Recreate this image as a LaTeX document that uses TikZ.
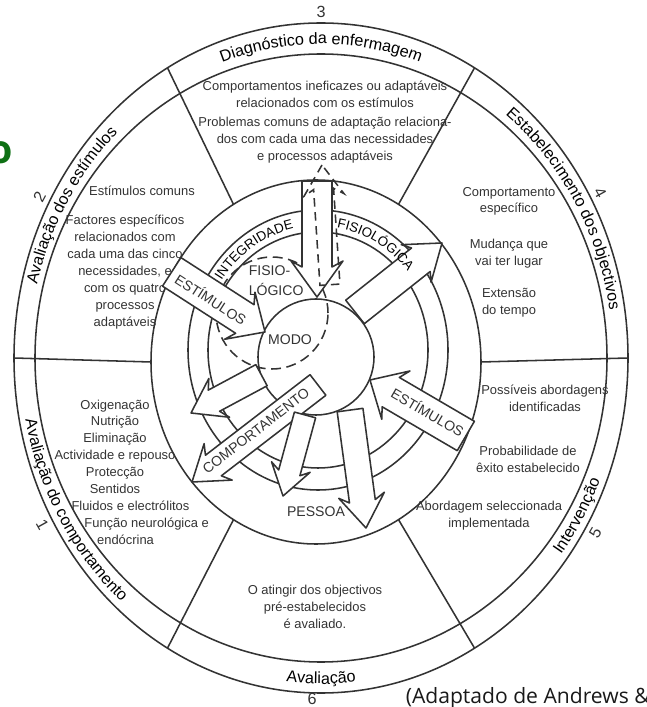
\documentclass[tikz,border=0pt]{standalone}
\usepackage{fontspec}
\setmainfont{Liberation Sans}
\newfontfamily\notefont{Open Sans}
\usetikzlibrary{decorations.text}
\definecolor{notegreen}{RGB}{14,112,20}

\newcommand\txtsz{\fontsize{9.2}{12}\selectfont}
\newcommand\ringsz{\fontsize{11.5}{13}\selectfont}
\newcommand\capsz{\fontsize{10}{12}\selectfont}
\newcommand\bandsz{\fontsize{9.5}{11}\selectfont}

\begin{document}
\begin{tikzpicture}[
    x=0.025cm, y=0.025cm,
    line width=1.1pt,
    color=black!80,
    lbl/.style={font=\txtsz, align=center, inner sep=0pt},
    num/.style={font=\ringsz, inner sep=0pt},
    caps/.style={font=\capsz, inner sep=0pt},
    % hollow arrow, tip at the origin: {length}{half shaft}{half head}{head length}
    pics/harrow/.style n args={4}{code={
      \path[pic actions] (0,0) -- (-#4-6,#3) -- (-#4,#2) -- (-#1,#2) -- (-#1,-#2) -- (-#4,-#2) -- (-#4-6,-#3) -- cycle;}},
    hollow/.style={draw, fill=white, line join=round},
    ringtext/.style={decorate, decoration={text along path, text align=center, text={|\ringsz|#1}}},
    bandtext/.style={decorate, decoration={text along path, text align=center, text={|\bandsz|#1}}}
]
\useasboundingbox (-321,-349) rectangle (325,358);
\clip (-321,-349) rectangle (325,358);

% outer ring and the six phases
\draw (0,0) ellipse [x radius=307, y radius=335];
\draw (0,0) ellipse [x radius=286, y radius=304];
\foreach \a in {0,60,...,300}
  \draw ([shift={(-5,-4)}]\a:165 and 182) -- (\a:307 and 335);

% ring labels
\path[ringtext={Diagnóstico da enfermagem}] (120:292 and 314) arc[start angle=120, end angle=60, x radius=292, y radius=314];
\path[ringtext={Estabelecimento dos objectivos}] (60:292 and 314) arc[start angle=60, end angle=0, x radius=292, y radius=314];
\path[ringtext={Avaliação dos estímulos}] (180:292 and 314) arc[start angle=180, end angle=120, x radius=292, y radius=314];
\path[ringtext={Avaliação do comportamento}] (180:301 and 326) arc[start angle=180, end angle=240, x radius=301, y radius=326];
\path[ringtext={Avaliação}] (240:301 and 326) arc[start angle=240, end angle=300, x radius=301, y radius=326];
\path[ringtext={Intervenção}] (300:301 and 326) arc[start angle=300, end angle=360, x radius=301, y radius=326];

\node[num] (n3) at (90:318 and 346) {3};
\node[num, rotate=-61] (n4) at (28.6:318 and 346) {4};
\node[num, rotate=60] (n5) at (-30.4:318 and 346) {5};
\node[num] (n6) at (-9,-341) {6};
\node[num, rotate=-61] (n1) at (208.8:318 and 346) {1};
\node[num, rotate=62] (n2) at (152.3:318 and 346) {2};

% contents of the phases
\node[lbl] (diag) at (4,236) {Comportamentos ineficazes ou adaptáveis\\ relacionados com os estímulos\\[1.5pt] Problemas comuns de adaptação relaciona-\\ dos com cada uma das necessidades\\ e processos adaptáveis};
\node[lbl] (goals) at (188,106) {Comportamento\\ específico\\[13pt] Mudança que\\ vai ter lugar\\[11pt] Extensão\\ do tempo};
\node[lbl] (poss) at (224,-40) {Possíveis abordagens\\ identificadas};
\node[lbl] (prob) at (207,-101) {Probabilidade de\\ êxito estabelecido};
\node[lbl] (impl) at (168,-158) {Abordagem seleccionada\\ implementada};
\node[lbl] (eval) at (-6,-249) {O atingir dos objectivos\\ pré-estabelecidos\\ é avaliado.};
\node[lbl] (needs) at (-206,-114) {Oxigenação\\ Nutrição\\ Eliminação\\ Actividade e repouso\\ Protecção\\ Sentidos\\ \hspace*{22pt}Fluidos e electrólitos\\ \hspace*{45pt}Função neurológica e\\ \hspace*{15pt}endócrina};
\node[lbl] (stimc) at (-179,167) {Estímulos comuns};
\node[lbl] (fact) at (-196,86) {Factores específicos\\ relacionados com\\ cada uma das cinco\\ necessidades, e\\ com os quatro\\ processos\\ adaptáveis};

% the person
\draw (-5,-4) ellipse [x radius=165, y radius=182];
\draw (-3,8) ellipse [x radius=130, y radius=140];
\draw (-3,8) ellipse [x radius=110, y radius=118];
\draw (-5,1) circle [radius=58];
\draw[dash pattern=on 7pt off 4pt] (-49,45) circle [radius=56];

% stimuli in, behaviour out
\pic[hollow, rotate=-90] (down) at (-4,61) {harrow={116}{15}{26}{30}};
\pic[draw, dash pattern=on 6pt off 4pt, rotate=93.8] (up) at (1,193) {harrow={120}{10}{20}{24}};
\pic[hollow, rotate=-32.8] (stimL) at (-56,26) {harrow={111}{17}{28}{24}};
\pic[hollow, rotate=149.7] (stimR) at (49,-22) {harrow={111}{17}{28}{24}};
\pic[hollow, rotate=217.6] (behav) at (-129,-124) {harrow={159}{13}{23}{27}};
\pic[hollow, rotate=38.4] (outUR) at (121,115) {harrow={111}{15}{24}{27}};
\pic[hollow, rotate=208.2] (outL) at (-130,-55) {harrow={80}{12}{22}{26}};
\pic[hollow, rotate=254.8] (outB) at (-38,-138) {harrow={84}{11}{20}{24}};
\pic[hollow, rotate=-82.3] (outBR) at (45,-170) {harrow={119}{13}{23}{27}};

\path[bandtext={INTEGRIDADE}] ([shift={(-3,8)}]150:116 and 124) arc[start angle=150, end angle=98, x radius=116, y radius=124];
\path[bandtext={FISIOLÓGICA}] ([shift={(-3,8)}]84:116 and 124) arc[start angle=84, end angle=36, x radius=116, y radius=124];

\node[caps, rotate=-32.8] (stimLtxt) at (-110,59) {ESTÍMULOS};
\node[caps, rotate=-30.3] (stimRtxt) at (107,-54) {ESTÍMULOS};
\node[caps, rotate=37.6] (behavtxt) at (-65,-73) {COMPORTAMENTO};
\node[caps, anchor=west, align=left] (fisio) at (-73,77) {FISIO-\\[2pt]LÓGICO};
\node[caps] (modo) at (-31,18) {MODO};
\node[caps] (pessoa) at (-5,-154) {PESSOA};

% page remnants
\node[font=\notefont\fontsize{15}{18}\selectfont, anchor=base west, inner sep=0pt, text=black!90] (src) at (84,-345) {(Adaptado de Andrews \&};
\node[font=\notefont\bfseries\fontsize{28}{30}\selectfont, text=notegreen, inner sep=0pt] (frag) at (-320,205) {o};
\end{tikzpicture}
\end{document}
